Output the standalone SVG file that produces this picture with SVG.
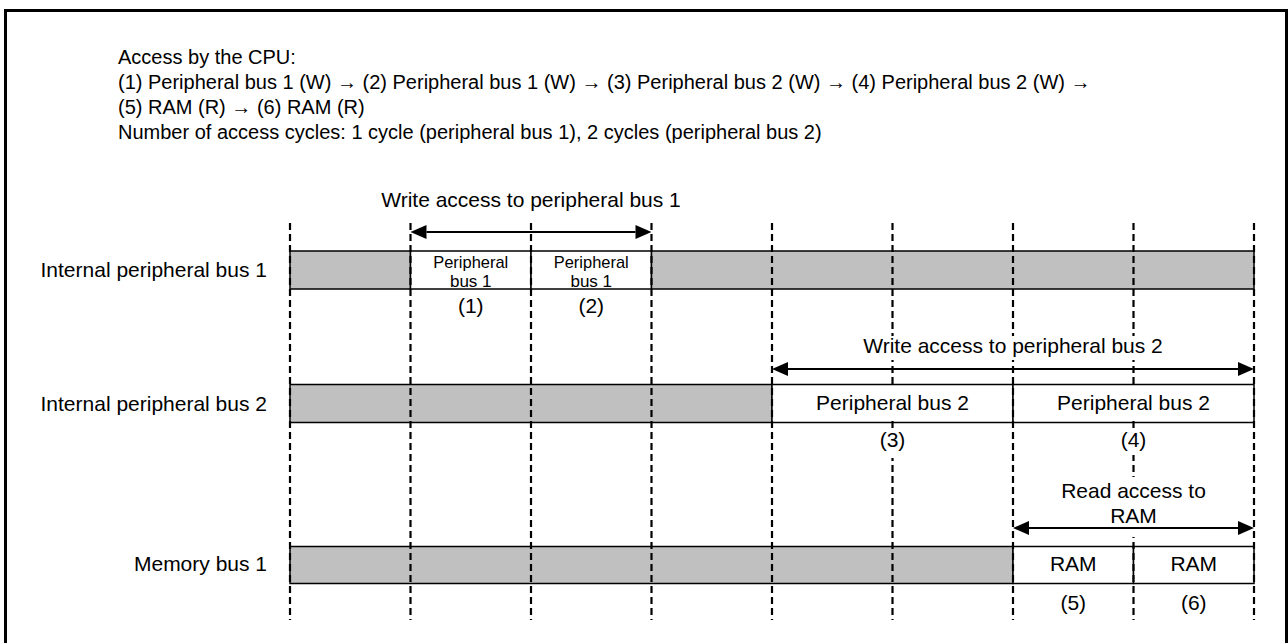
<svg xmlns="http://www.w3.org/2000/svg" width="1288" height="643" viewBox="0 0 1288 643">
<style>
text{font-family:"Liberation Sans",Arial,sans-serif;fill:#000}
.h{font-size:20px}
.c{font-size:21px;text-anchor:middle}
.s{font-size:17px;text-anchor:middle}
.r{font-size:21px;text-anchor:end}
.g{fill:#c0c0c0;stroke:#000;stroke-width:1.5}
.w{fill:#fff;stroke:#000;stroke-width:1.5}
.d{stroke:#000;stroke-width:2.2;stroke-dasharray:7 4;fill:none}
.bg{fill:#fff;stroke:none}
.a{stroke:#000;stroke-width:2;fill:none;marker-start:url(#ah);marker-end:url(#ah)}
</style>
<defs>
<marker id="ah" markerUnits="userSpaceOnUse" markerWidth="18" markerHeight="16" viewBox="0 -8 16 16" refX="0" refY="0" orient="auto-start-reverse">
<path d="M0,-7 L16,0 L0,7 z" fill="#000"/>
</marker>
</defs>
<rect x="5.5" y="10.5" width="1281" height="700" fill="#fff" stroke="#000" stroke-width="3"/>
<g id="header">
<text class="h" x="118" y="64">Access by the CPU:</text>
<text class="h" x="118" y="89">(1) Peripheral bus 1 (W) → (2) Peripheral bus 1 (W) → (3) Peripheral bus 2 (W) → (4) Peripheral bus 2 (W) →</text>
<text class="h" x="118" y="114">(5) RAM (R) → (6) RAM (R)</text>
<text class="h" x="118" y="139">Number of access cycles: 1 cycle (peripheral bus 1), 2 cycles (peripheral bus 2)</text>
</g>
<g id="bus1">
<text class="r" x="267" y="277">Internal peripheral bus 1</text>
<rect class="g" x="290" y="251" width="120.5" height="38"/>
<rect class="w" x="410.5" y="251" width="120.5" height="38"/>
<rect class="w" x="531" y="251" width="120.5" height="38"/>
<rect class="g" x="651.5" y="251" width="602.5" height="38"/>
</g>
<g id="bus2">
<text class="r" x="267" y="411">Internal peripheral bus 2</text>
<rect class="g" x="290" y="384.5" width="482" height="38"/>
<rect class="w" x="772" y="384.5" width="241" height="38"/>
<rect class="w" x="1013" y="384.5" width="241" height="38"/>
</g>
<g id="mem1">
<text class="r" x="267" y="571">Memory bus 1</text>
<rect class="g" x="290" y="546.5" width="723" height="37"/>
<rect class="w" x="1013" y="546.5" width="120.5" height="37"/>
<rect class="w" x="1133.5" y="546.5" width="120.5" height="37"/>
</g>
<g id="gridlines">
<line class="d" x1="290" y1="223" x2="290" y2="620"/>
<line class="d" x1="410.5" y1="223" x2="410.5" y2="620"/>
<line class="d" x1="531" y1="223" x2="531" y2="620"/>
<line class="d" x1="651.5" y1="223" x2="651.5" y2="620"/>
<line class="d" x1="772" y1="223" x2="772" y2="620"/>
<line class="d" x1="892.5" y1="223" x2="892.5" y2="620"/>
<line class="d" x1="1013" y1="223" x2="1013" y2="620"/>
<line class="d" x1="1133.5" y1="223" x2="1133.5" y2="620"/>
<line class="d" x1="1254" y1="223" x2="1254" y2="620"/>
</g>
<g id="labels">
<rect class="bg" x="776" y="386" width="234" height="35"/>
<rect class="bg" x="1017" y="386" width="234" height="35"/>
<rect class="bg" x="861" y="336" width="304" height="24"/>
<rect class="bg" x="1048" y="477" width="172" height="60"/>
<rect class="bg" x="876" y="428" width="34" height="30"/>
<rect class="bg" x="1117" y="430" width="34" height="25"/>
<text class="s" x="470.75" y="267.5" textLength="75" lengthAdjust="spacingAndGlyphs">Peripheral</text>
<text class="s" x="470.75" y="287">bus 1</text>
<text class="s" x="591.25" y="267.5" textLength="75" lengthAdjust="spacingAndGlyphs">Peripheral</text>
<text class="s" x="591.25" y="287">bus 1</text>
<text class="c" x="470.75" y="313">(1)</text>
<text class="c" x="591.25" y="313">(2)</text>
<text class="c" x="892.5" y="410">Peripheral bus 2</text>
<text class="c" x="1133.5" y="410">Peripheral bus 2</text>
<text class="c" x="892.5" y="447">(3)</text>
<text class="c" x="1133.5" y="447">(4)</text>
<text class="c" x="1073.25" y="571">RAM</text>
<text class="c" x="1193.75" y="571">RAM</text>
<text class="c" x="1073.25" y="610">(5)</text>
<text class="c" x="1193.75" y="610">(6)</text>
<text class="c" x="531" y="207">Write access to peripheral bus 1</text>
<text class="c" x="1013" y="353">Write access to peripheral bus 2</text>
<text class="c" x="1133.5" y="498">Read access to</text>
<text class="c" x="1133.5" y="523">RAM</text>
</g>
<g id="connectors">
<line class="a" x1="426.5" y1="232" x2="635.5" y2="232"/>
<line class="a" x1="788" y1="369" x2="1238" y2="369"/>
<line class="a" x1="1029" y1="528" x2="1238" y2="528"/>
</g>
</svg>
